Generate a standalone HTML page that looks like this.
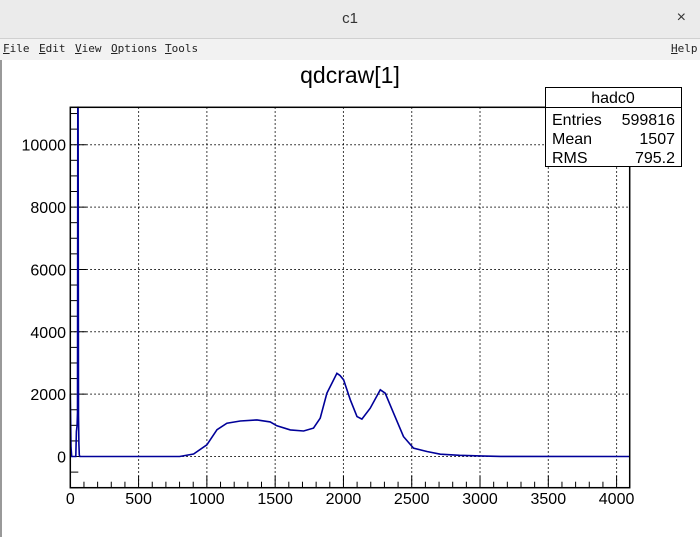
<!DOCTYPE html>
<html><head><meta charset="utf-8"><style>
body{margin:0;width:700px;height:537px;overflow:hidden;background:#fff;font-family:"Liberation Sans",sans-serif}
#tb{position:absolute;left:0;top:0;width:700px;height:38px;background:#ebebeb;border-bottom:1px solid #d0d0d0}
#tb .t{position:absolute;left:0;width:700px;top:10px;text-align:center;font-size:15px;color:#333}
#tb .x{position:absolute;right:14px;top:9px;font-size:16px;color:#333}
#mb{position:absolute;left:0;top:39px;width:700px;height:21px;background:#f2f2f2;font-family:"DejaVu Sans Mono","Liberation Mono",monospace;font-size:11px;color:#222}
#mb span{position:absolute;top:3px}
#cv{position:absolute;left:0;top:60px;width:700px;height:477px;border-left:2px solid #999;box-sizing:border-box}
</style></head><body>
<div id="tb"><div class="t">c1</div><div class="x">×</div></div>
<div id="mb">
<span style="left:3px"><u>F</u>ile</span>
<span style="left:39px"><u>E</u>dit</span>
<span style="left:75px"><u>V</u>iew</span>
<span style="left:111px"><u>O</u>ptions</span>
<span style="left:165px"><u>T</u>ools</span>
<span style="left:671px"><u>H</u>elp</span>
</div>
<div id="cv"></div>
<svg id="s" width="700" height="537" style="position:absolute;left:0;top:0"></svg>
<script>
const xTicks=[0,500,1000,1500,2000,2500,3000,3500,4000];
const yTicks=[0,2000,4000,6000,8000,10000];
const binX=[0,5,10,40,45,50,53,55,57,60,63,66,70,800,903,1000,1074,1147,1245,1367,1464,1513,1611,1708,1781,1830,1879,1952,1975,2001,2050,2099,2135,2196,2270,2306,2367,2440,2513,2611,2709,2850,3000,3150,4096];
const binY=[2000,300,0,0,800,1000,1400,30000,30000,1300,400,50,0,0,80,375,860,1070,1140,1175,1110,985,855,820,910,1230,2030,2670,2600,2460,1820,1280,1200,1550,2140,2030,1390,640,270,160,75,40,20,5,0];
const X0=70.3,X1=629.7,XMAX=4096,Y0=107.3,Y1=487.7,YMIN=-1000,YMAX=11200;
const sx=v=>X0+(v/XMAX)*(X1-X0);
const sy=v=>Y1-(v-YMIN)/(YMAX-YMIN)*(Y1-Y0);
const s=document.getElementById('s');const NS='http://www.w3.org/2000/svg';
function mk(t,a){const e=document.createElementNS(NS,t);for(const k in a)e.setAttribute(k,a[k]);s.appendChild(e);return e;}
let e;
e=mk('text',{x:350,y:83,'text-anchor':'middle','font-size':23,fill:'#000'});e.textContent='qdcraw[1]';


xTicks.forEach(v=>{if(v>0){e=mk('line',{x1:sx(v),x2:sx(v),y1:Y0,y2:Y1,stroke:'#000','stroke-dasharray':'1.5,2.5'});

}
e=mk('text',{x:sx(v),y:504,'text-anchor':'middle','font-size':16});e.textContent=v;

});
for(let v=100;v<XMAX;v+=100){e=mk('line',{x1:sx(v),x2:sx(v),y1:Y1,y2:Y1-(v%500?6:12),stroke:'#000'});

}
yTicks.forEach(v=>{e=mk('line',{x1:X0,x2:X1,y1:sy(v),y2:sy(v),stroke:'#000','stroke-dasharray':'1.5,2.5'});


e=mk('text',{x:66,y:sy(v)+6,'text-anchor':'end','font-size':16});e.textContent=v;

});
for(let v=-1000;v<YMAX;v+=500){e=mk('line',{x1:X0,x2:X0+(v%2000?8:16),y1:sy(v),y2:sy(v),stroke:'#000'});

}
let d='';binX.forEach((v,i)=>{const y=Math.max(Y0,sy(binY[i]));d+=(i?'L':'M')+sx(v).toFixed(1)+','+y.toFixed(1);});
e=mk('path',{d:d,fill:'none',stroke:'#000099','stroke-width':1.6});


e=mk('rect',{x:X0,y:Y0,width:X1-X0,height:Y1-Y0,fill:'none',stroke:'#000','stroke-width':1.5});


e=mk('rect',{x:545.5,y:87.5,width:136,height:79,fill:'#fff',stroke:'#000'});


mk('line',{x1:545.5,x2:681.5,y1:107.5,y2:107.5,stroke:'#000'});
e=mk('text',{x:613,y:103,'text-anchor':'middle','font-size':16});e.textContent='hadc0';


[['Entries','599816',125],['Mean','1507',144],['RMS','795.2',163]].forEach(r=>{
e=mk('text',{x:552,y:r[2],'font-size':16});e.textContent=r[0];


e=mk('text',{x:675,y:r[2],'text-anchor':'end','font-size':16});e.textContent=r[1];

});
</script>
</body></html>
